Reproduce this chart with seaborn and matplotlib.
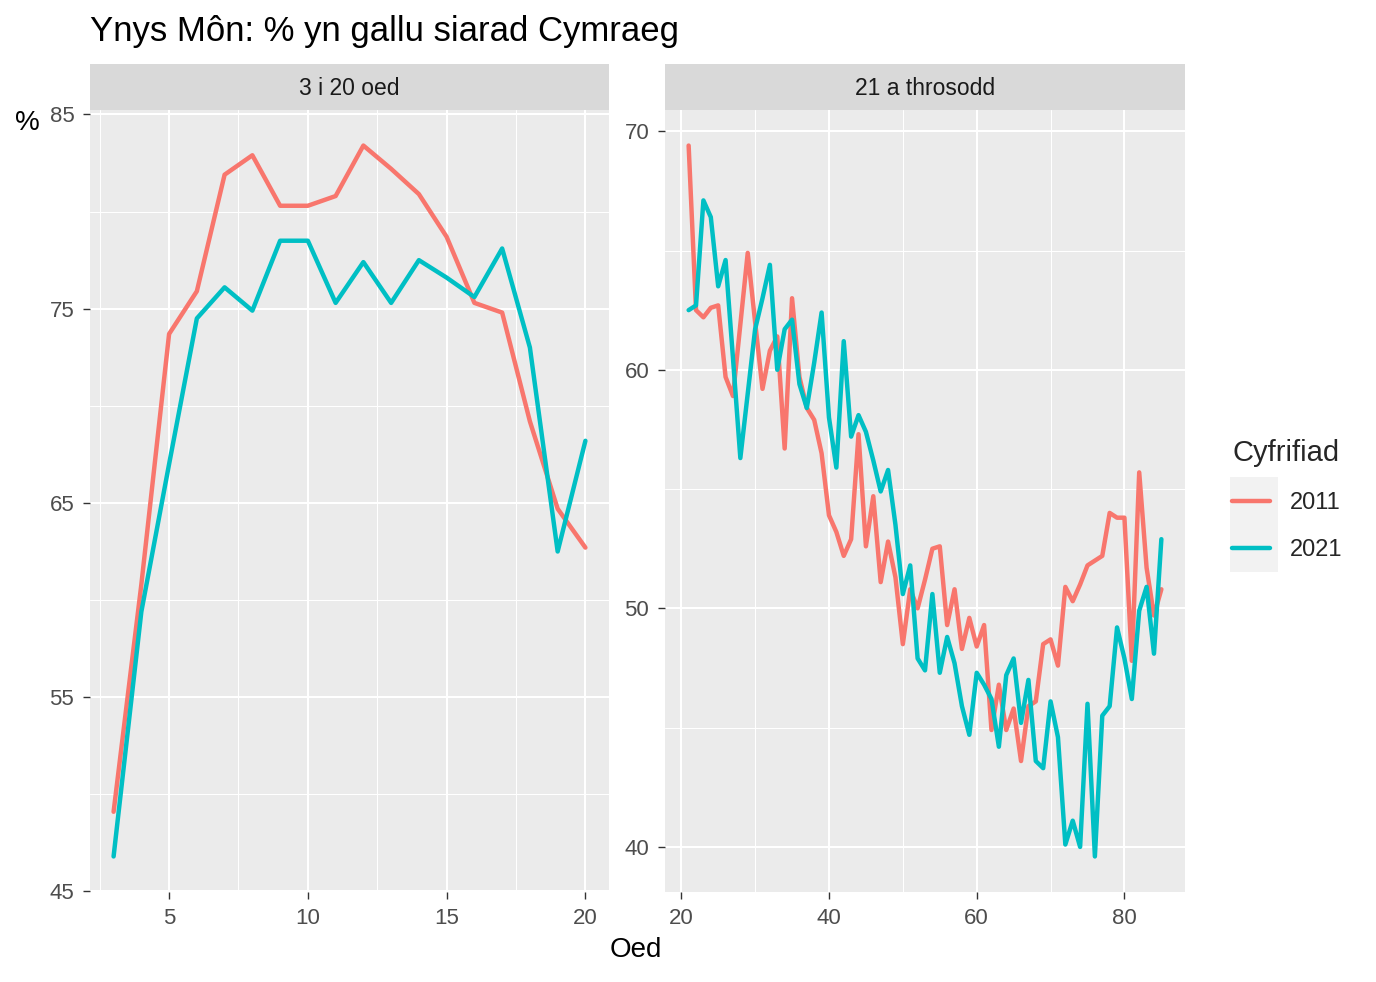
import numpy as np
import pandas as pd
import matplotlib
matplotlib.use("Agg")
import matplotlib.pyplot as plt
import seaborn as sns
from matplotlib.patches import Rectangle
from matplotlib.ticker import MultipleLocator

# =========================
# DATA
# =========================
ages_young = list(range(3, 21))
young_2011 = [49.1, 60.8, 73.7, 75.9, 81.9, 82.9, 80.3, 80.3, 80.8, 83.4,
              82.2, 80.9, 78.7, 75.3, 74.8, 69.2, 64.7, 62.7]
young_2021 = [46.8, 59.4, 67.0, 74.5, 76.1, 74.9, 78.5, 78.5, 75.3, 77.4,
              75.3, 77.5, 76.6, 75.6, 78.1, 73.0, 62.5, 68.2]

ages_adult = list(range(21, 86))
adult_2011 = [69.4, 62.5, 62.2, 62.6, 62.7, 59.7, 58.9, 61.9, 64.9, 62.0,
              59.2, 60.8, 61.4, 56.7, 63.0, 59.7, 58.4, 57.9, 56.5, 53.9,
              53.2, 52.2, 52.9, 57.3, 52.6, 54.7, 51.1, 52.8, 51.3, 48.5,
              50.8, 50.0, 51.2, 52.5, 52.6, 49.3, 50.8, 48.3, 49.6, 48.4,
              49.3, 44.9, 46.8, 44.9, 45.8, 43.6, 45.9, 46.1, 48.5, 48.7,
              47.6, 50.9, 50.3, 51.0, 51.8, 52.0, 52.2, 54.0, 53.8, 53.8,
              47.8, 55.7, 51.7, 49.7, 50.8]
adult_2021 = [62.5, 62.7, 67.1, 66.4, 63.5, 64.6, 60.5, 56.3, 59.0, 61.7,
              63.0, 64.4, 60.0, 61.7, 62.1, 59.4, 58.4, 60.3, 62.4, 58.0,
              55.9, 61.2, 57.2, 58.1, 57.4, 56.2, 54.9, 55.8, 53.5, 50.6,
              51.8, 47.9, 47.4, 50.6, 47.3, 48.8, 47.7, 45.9, 44.7, 47.3,
              46.8, 46.2, 44.2, 47.2, 47.9, 45.2, 47.0, 43.6, 43.3, 46.1,
              44.6, 40.1, 41.1, 40.0, 46.0, 39.6, 45.5, 45.9, 49.2, 47.9,
              46.2, 49.9, 50.9, 48.1, 52.9]

panel_titles = ["3 i 20 oed", "21 a throsodd"]
census_years = ["2011", "2021"]
palette = {"2011": "#F8766D", "2021": "#00BFC4"}


def long_frame(ages, v2011, v2021):
    return pd.DataFrame({
        "Oed": ages + ages,
        "pct": v2011 + v2021,
        "Cyfrifiad": ["2011"] * len(ages) + ["2021"] * len(ages),
    })


df_young = long_frame(ages_young, young_2011, young_2021)
df_adult = long_frame(ages_adult, adult_2011, adult_2021)


def expand(values, frac=0.05):
    # ggplot-style 5% padding on a continuous scale
    lo, hi = min(values), max(values)
    pad = (hi - lo) * frac
    return lo - pad, hi + pad


# =========================
# FIGURE
# =========================
sns.set_style("darkgrid")
plt.rcParams["font.family"] = ["Liberation Sans", "DejaVu Sans"]

W, H = 1376, 982
LW = 3.2
fig = plt.figure(figsize=(W / 100, H / 100), dpi=100)


def frac_box(x0, y0, x1, y1):
    # pixel box (top-left origin) -> figure fraction rect
    return [x0 / W, 1 - y1 / H, (x1 - x0) / W, (y1 - y0) / H]


panels = [
    (df_young, frac_box(90, 110, 609, 892), frac_box(90, 64, 609, 110),
     (5, 2.5), (10, 5), 5),
    (df_adult, frac_box(665, 110, 1185, 892), frac_box(665, 64, 1185, 110),
     (20, 10), (10, 5), 0),
]

for (df, rect, strip_rect, xstep, ystep, yoff), title in zip(panels, panel_titles):
    ax = fig.add_axes(rect)
    sns.lineplot(data=df, x="Oed", y="pct", hue="Cyfrifiad",
                 hue_order=census_years, palette=palette,
                 linewidth=LW, ax=ax, legend=False)
    ax.set_facecolor("#EBEBEB")
    for s in ax.spines.values():
        s.set_visible(False)
    ax.set_xlim(*expand(df["Oed"].tolist()))
    ax.set_ylim(*expand(df["pct"].tolist()))
    ax.xaxis.set_major_locator(MultipleLocator(xstep[0]))
    ax.xaxis.set_minor_locator(MultipleLocator(xstep[1]))
    ax.yaxis.set_major_locator(MultipleLocator(ystep[0], offset=yoff))
    ax.yaxis.set_minor_locator(MultipleLocator(ystep[1]))
    ax.grid(which="major", color="white", linewidth=1.5)
    ax.grid(which="minor", color="white", linewidth=0.75)
    ax.tick_params(which="major", length=5, width=1.0, color="#333333",
                   labelcolor="#4D4D4D", labelsize=16, pad=6.3,
                   bottom=True, left=True)
    ax.tick_params(which="minor", length=0)
    ax.set_xlabel("")
    ax.set_ylabel("")

    # facet strip
    sax = fig.add_axes(strip_rect)
    sax.set_facecolor("#D9D9D9")
    sax.set_xticks([])
    sax.set_yticks([])
    for s in sax.spines.values():
        s.set_visible(False)
    sax.text(0.5, 0.47, title, ha="center", va="center", fontsize=16.5,
             color="#1A1A1A", transform=sax.transAxes)

# titles and labels
fig.text(90 / W, 1 - 31 / H, "Ynys Môn: % yn gallu siarad Cymraeg",
         fontsize=25, color="black", ha="left", va="center")
fig.text(27 / W, 1 - 123 / H, "%", fontsize=20, color="black",
         ha="center", va="center")
fig.text(636 / W, 1 - 950 / H, "Oed", fontsize=20, color="black",
         ha="center", va="center")

# legend
fig.patches.append(Rectangle((1230 / W, 1 - 572 / H), 48 / W, 95 / H,
                             transform=fig.transFigure, facecolor="#F2F2F2",
                             edgecolor="none", zorder=0))
handles = [plt.Line2D([], [], color=palette[y], linewidth=LW)
           for y in census_years]
leg = fig.legend(handles, census_years, title="Cyfrifiad",
                 loc="upper left", bbox_to_anchor=(1211 / W, 1 - 418 / H),
                 frameon=False, fontsize=17, title_fontsize=21,
                 handlelength=1.6, handletextpad=0.85, labelspacing=1.05)
leg._legend_box.align = "left"

fig.savefig("out.png", dpi=100)
